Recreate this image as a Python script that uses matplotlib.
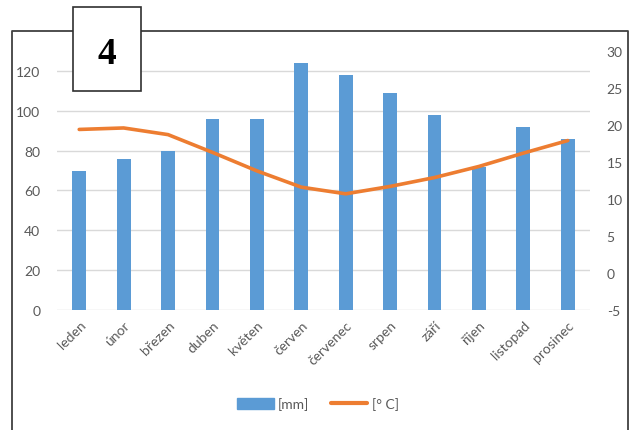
import matplotlib
matplotlib.use("Agg")
import matplotlib.pyplot as plt
from matplotlib.lines import Line2D
from matplotlib.patches import Rectangle
import numpy as np

months = ["leden", "únor", "březen", "duben", "květen", "červen",
          "červenec", "srpen", "září", "říjen", "listopad", "prosinec"]
precip_mm = [70, 76, 80, 96, 96, 124, 118, 109, 98, 72, 92, 86]
temp_c = [19.4, 19.6, 18.7, 16.3, 13.8, 11.6, 10.7, 11.7, 12.9, 14.4, 16.2, 17.9]
left_ticks = [0, 20, 40, 60, 80, 100, 120]
right_ticks = [-5, 0, 5, 10, 15, 20, 25, 30]

BLUE = "#5B9BD5"
ORANGE = "#ED7D31"
GREY = "#595959"

plt.rcParams['font.family'] = ['Lato', 'DejaVu Sans']
plt.rcParams['axes.unicode_minus'] = False

W, H = 637, 431
fig = plt.figure(figsize=(W / 100, H / 100), dpi=100)

def fx(px):
    return px / W

def fy(py):
    return 1 - py / H

ax = fig.add_axes([fx(57), fy(311), fx(590) - fx(57), fy(52) - fy(311)])
x = np.arange(len(months))
ax.bar(x, precip_mm, width=0.31, color=BLUE, zorder=2, label="[mm]")
ax.set_xlim(-0.5, len(months) - 0.5)
ax.set_ylim(0, 130)
ax.set_yticks(left_ticks)
for t in left_ticks:
    ax.axhline(t, color="#D9D9D9", lw=1, zorder=0)
for s in ax.spines.values():
    s.set_visible(False)
ax.tick_params(axis="both", length=0, colors=GREY, labelsize=10)
ax.tick_params(axis="y", pad=12)
ax.set_xticks(x)
ax.set_xticklabels(months, rotation=45, ha="right", rotation_mode="anchor",
                   fontsize=10, color=GREY)
ax.tick_params(axis="x", pad=6)

ax2 = ax.twinx()
ax2.plot(x, temp_c, color=ORANGE, lw=2.6, solid_capstyle="round",
         solid_joinstyle="round", zorder=3)
ax2.set_ylim(-5, 30)
ax2.set_yticks(right_ticks)
for s in ax2.spines.values():
    s.set_visible(False)
ax2.tick_params(axis="y", length=0, colors=GREY, labelsize=10, pad=12)

handles = [Rectangle((0, 0), 1, 1, color=BLUE),
           Line2D([0], [0], color=ORANGE, lw=3, solid_capstyle="round")]
fig.legend(handles, ["[mm]", "[° C]"], loc="center",
           bbox_to_anchor=(fx(318), fy(405)), ncol=2, frameon=False,
           fontsize=10, labelcolor=GREY, handlelength=2.6, handleheight=0.9,
           handletextpad=0.3, columnspacing=1.6)

# outer frame (left, top, right)
frame = Line2D([fx(12), fx(12), fx(628), fx(628)],
               [fy(431), fy(32), fy(32), fy(431)],
               transform=fig.transFigure, color="#404040", lw=1.3)
fig.add_artist(frame)

# "4" label box
box = Rectangle((fx(73), fy(92)), fx(141) - fx(73), fy(8) - fy(92),
                transform=fig.transFigure, facecolor="white",
                edgecolor="#303030", lw=1.2, zorder=10)
fig.add_artist(box)
fig.text(fx(107), fy(54), "4", ha="center", va="center",
         fontsize=27, fontweight="bold", family=["Liberation Serif"],
         color="black", zorder=11)

fig.savefig("out.png", dpi=100)
